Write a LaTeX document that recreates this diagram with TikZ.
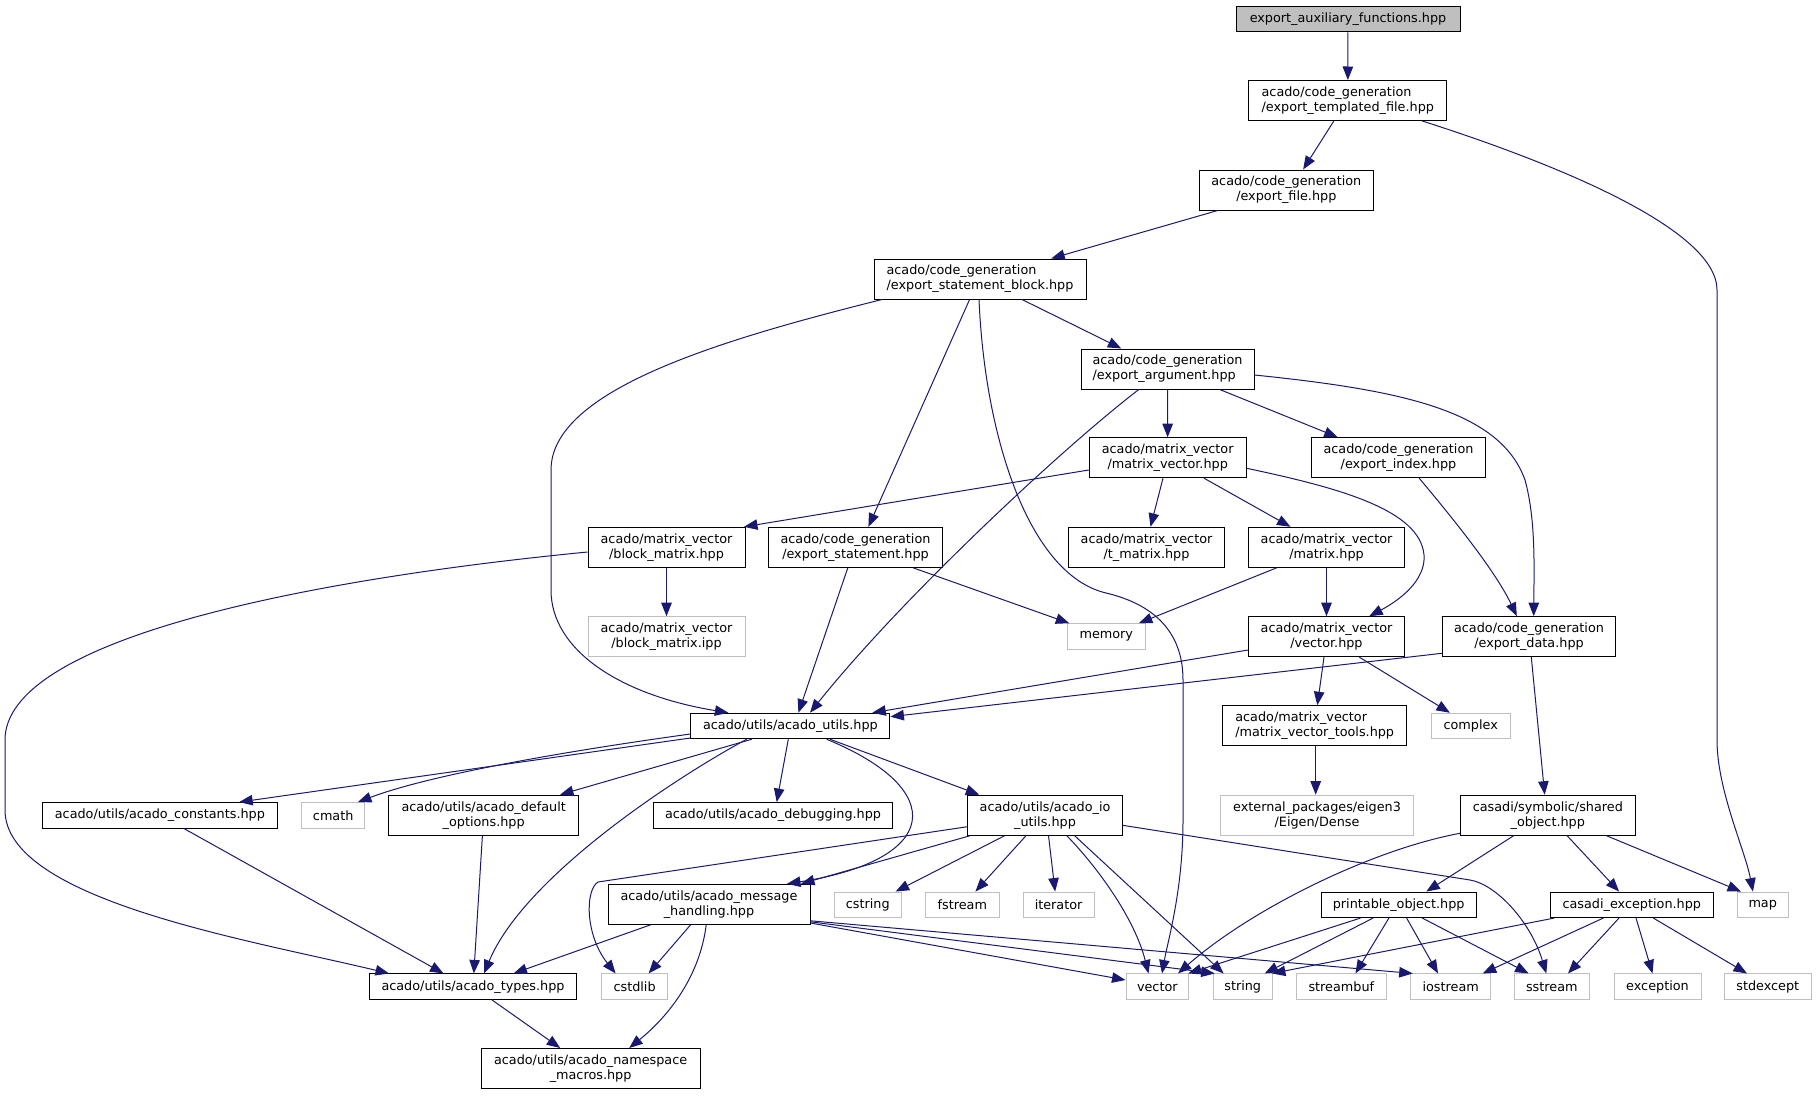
\documentclass[tikz,border=0pt]{standalone}
\usepackage{fontspec}
\setmainfont{DejaVu Sans}
\usetikzlibrary{arrows.meta}
\definecolor{edgeblue}{HTML}{191970}
\definecolor{extgray}{HTML}{BFBFBF}
\definecolor{topfill}{HTML}{BFBFBF}
\tikzset{
  nd/.style={draw=black, line width=1pt, fill=white, rectangle, inner sep=0pt,
    font=\fontsize{12.8}{15}\selectfont, align=center, minimum height=40pt},
  one/.style={minimum height=25.5pt},
  ext/.style={draw=extgray},
  e/.style={draw=edgeblue, line width=1pt, -{Triangle[length=13.5pt,width=10.5pt]}},
}
\begin{document}
\begin{tikzpicture}[x=1pt,y=-1pt]
\useasboundingbox (0,0) rectangle (1817,1095);
% nodes
\node[nd,one,fill=topfill,minimum width=224pt] (aux) at (1348,19) {export\_auxiliary\_functions.hpp};
\node[nd,align=left,minimum width=198pt] (tmpl) at (1347.8,100.5) {acado/code\_generation\\/export\_templated\_file.hpp};
\node[nd,minimum width=174pt] (file) at (1286.3,190) {acado/code\_generation\\/export\_file.hpp};
\node[nd,align=left,minimum width=212pt] (sblock) at (980,279) {acado/code\_generation\\/export\_statement\_block.hpp};
\node[nd,align=left,minimum width=173pt] (arg) at (1167.5,369) {acado/code\_generation\\/export\_argument.hpp};
\node[nd,minimum width=157pt] (mv) at (1167.7,457.7) {acado/matrix\_vector\\/matrix\_vector.hpp};
\node[nd,minimum width=173.5pt] (idx) at (1398.5,457.7) {acado/code\_generation\\/export\_index.hpp};
\node[nd,minimum width=157pt] (bm) at (666.5,547.3) {acado/matrix\_vector\\/block\_matrix.hpp};
\node[nd,minimum width=173.5pt] (es) at (855.5,547.3) {acado/code\_generation\\/export\_statement.hpp};
\node[nd,minimum width=156pt] (tm) at (1146.5,547.3) {acado/matrix\_vector\\/t\_matrix.hpp};
\node[nd,minimum width=156pt] (mat) at (1326.5,547.3) {acado/matrix\_vector\\/matrix.hpp};
\node[nd,ext,minimum width=157pt] (bmi) at (666.5,636.7) {acado/matrix\_vector\\/block\_matrix.ipp};
\node[nd,ext,one,minimum width=77.4pt] (mem) at (1106.3,636.5) {memory};
\node[nd,minimum width=156pt] (vec) at (1326.5,636.7) {acado/matrix\_vector\\/vector.hpp};
\node[nd,minimum width=173.5pt] (data) at (1529,636.7) {acado/code\_generation\\/export\_data.hpp};
\node[nd,one,minimum width=199pt] (utils) at (790.4,726) {acado/utils/acado\_utils.hpp};
\node[nd,align=left,minimum width=184pt] (mvt) at (1314.7,725.7) {acado/matrix\_vector\\/matrix\_vector\_tools.hpp};
\node[nd,ext,one,minimum width=78.6pt] (cplx) at (1470.7,726) {complex};
\node[nd,one,minimum width=235pt] (const) at (159.9,815.3) {acado/utils/acado\_constants.hpp};
\node[nd,ext,one,minimum width=63.4pt] (cmath) at (333.2,815.3) {cmath};
\node[nd,minimum width=189.5pt] (defopt) at (483.7,815.2) {acado/utils/acado\_default\\\_options.hpp};
\node[nd,one,minimum width=239pt] (dbg) at (773,815.3) {acado/utils/acado\_debugging.hpp};
\node[nd,minimum width=154.4pt] (io) at (1045,815.2) {acado/utils/acado\_io\\\_utils.hpp};
\node[nd,ext,minimum width=193.2pt] (eigen) at (1317,815.2) {external\_packages/eigen3\\/Eigen/Dense};
\node[nd,minimum width=174.7pt] (shared) at (1547.8,815.2) {casadi/symbolic/shared\\\_object.hpp};
\node[nd,minimum width=202pt] (msg) at (709,904.3) {acado/utils/acado\_message\\\_handling.hpp};
\node[nd,ext,one,minimum width=66.5pt] (cstring) at (867.8,904.8) {cstring};
\node[nd,ext,one,minimum width=73.5pt] (fstream) at (962.3,904.8) {fstream};
\node[nd,ext,one,minimum width=70.8pt] (iter) at (1058.6,904.8) {iterator};
\node[nd,one,minimum width=155pt] (print) at (1398.7,904.8) {printable\_object.hpp};
\node[nd,one,minimum width=163.3pt] (cexc) at (1631.8,904.8) {casadi\_exception.hpp};
\node[nd,ext,one,minimum width=51.2pt] (map) at (1762.7,904.8) {map};
\node[nd,one,minimum width=207pt] (types) at (473,986.7) {acado/utils/acado\_types.hpp};
\node[nd,ext,one,minimum width=65.3pt] (cstdlib) at (634.6,986.7) {cstdlib};
\node[nd,ext,one,minimum width=62.6pt] (vector) at (1157.3,986.7) {vector};
\node[nd,ext,one,minimum width=59.4pt] (string) at (1242.7,986.7) {string};
\node[nd,ext,one,minimum width=89.7pt] (streambuf) at (1341.3,986.7) {streambuf};
\node[nd,ext,one,minimum width=80.3pt] (iostream) at (1450.7,986.7) {iostream};
\node[nd,ext,one,minimum width=74.8pt] (sstream) at (1551.8,986.7) {sstream};
\node[nd,ext,one,minimum width=87pt] (exception) at (1657.5,986.7) {exception};
\node[nd,ext,one,minimum width=86.6pt] (stdexcept) at (1767.8,986.7) {stdexcept};
\node[nd,minimum width=218.8pt] (ns) at (590.6,1068.5) {acado/utils/acado\_namespace\\\_macros.hpp};
% edges
\draw[e] (aux) -- (tmpl);
\draw[e] ([xshift=-14pt]tmpl.south) -- ([xshift=16.8pt]file.north);
\draw[e] ([xshift=74.5pt]tmpl.south) .. controls (1560,165) and (1717,230) .. (1717,290) -- (1717,740) .. controls (1717,790) and (1745,850) .. ([xshift=-9.8pt]map.north);
\draw[e] ([xshift=-68.6pt]file.south) -- ([xshift=71.2pt]sblock.north);
\draw[e] ([xshift=-98pt]sblock.south) .. controls (720,340) and (551,390) .. (551,470) -- (551,590) .. controls (551,650) and (620,695) .. ([xshift=-62pt]utils.north);
\draw[e] ([xshift=-10.4pt]sblock.south) -- ([xshift=12.9pt]es.north);
\draw[e] ([xshift=-1pt]sblock.south) .. controls (985,440) and (1030,575) .. (1106,593) .. controls (1151.6,603.8) and (1183,630) .. (1183,680) -- (1183,820) .. controls (1183,890) and (1168,940) .. ([xshift=4.7pt]vector.north);
\draw[e] ([xshift=42pt]sblock.south) -- ([xshift=-46.2pt]arg.north);
\draw[e] ([xshift=-28.7pt]arg.south) .. controls (1060,450) and (900,600) .. ([xshift=19.6pt]utils.north);
\draw[e] (arg) -- (mv);
\draw[e] ([xshift=52.2pt]arg.south) -- ([xshift=-60.8pt]idx.north);
\draw[e] ([yshift=-6pt]arg.east) .. controls (1400,390) and (1500,410) .. (1525,480) .. controls (1536,520) and (1534,570) .. ([xshift=4.7pt]data.north);
\draw[e] ([yshift=-12.3pt]mv.west) -- ([xshift=77.5pt]bm.north);
\draw[e] ([xshift=-4.7pt]mv.south) -- ([xshift=4pt]tm.north);
\draw[e] ([xshift=36.3pt]mv.south) -- ([xshift=-36pt]mat.north);
\draw[e] ([yshift=-10.6pt]mv.east) .. controls (1340,488) and (1420,510) .. (1424,555) .. controls (1426,580) and (1400,600) .. ([xshift=42.7pt]vec.north);
\draw[e] ([xshift=20.7pt]idx.south) .. controls (1450,515) and (1495,570) .. ([xshift=-12.2pt]data.north);
\draw[e] (bm) -- (bmi);
\draw[e] ([yshift=-4.7pt]bm.west) .. controls (300,580) and (5,640) .. (5,740) -- (5,810) .. controls (5,900) and (250,940) .. ([xshift=-84pt]types.north);
\draw[e] ([xshift=-7.7pt]es.south) -- ([xshift=8pt]utils.north);
\draw[e] ([xshift=57.6pt]es.south) -- ([xshift=-37pt]mem.north);
\draw[e] ([xshift=-49.8pt]mat.south) -- ([xshift=32.5pt]mem.north);
\draw[e] (mat) -- (vec);
\draw[e] ([yshift=-13.3pt]vec.west) -- ([xshift=81.9pt]utils.north);
\draw[e] ([yshift=-16.6pt]data.west) -- ([yshift=9.3pt]utils.east);
\draw[e] ([xshift=2.3pt]data.south) -- ([xshift=-3.1pt]shared.north);
\draw[e] ([xshift=-2.5pt]vec.south) -- ([xshift=2.6pt]mvt.north);
\draw[e] ([xshift=32.9pt]vec.south) -- ([xshift=-20.8pt]cplx.north);
\draw[e] ([xshift=1pt]mvt.south) -- ([xshift=-1.3pt]eigen.north);
\draw[e] ([yshift=-12pt]utils.west) -- ([xshift=79.3pt]const.north);
\draw[e] ([yshift=-8pt]utils.west) .. controls (560,752) and (430,775) .. ([xshift=24.7pt]cmath.north);
\draw[e] ([xshift=-38.7pt]utils.south) -- ([xshift=76.3pt]defopt.north);
\draw[e] ([xshift=-43.7pt]utils.south) .. controls (680,775) and (525,875) .. ([xshift=11pt]types.north);
\draw[e] ([xshift=-2.1pt]utils.south) -- ([xshift=3.7pt]dbg.north);
\draw[e] ([xshift=36.3pt]utils.south) .. controls (950,790) and (940,860) .. ([xshift=78pt]msg.north);
\draw[e] ([xshift=39.6pt]utils.south) -- ([xshift=-65.7pt]io.north);
\draw[e] ([xshift=24.1pt]const.south) -- ([xshift=-29.5pt]types.north);
\draw[e] ([xshift=-1.3pt]defopt.south) -- ([xshift=0.8pt]types.north);
\draw[e] ([yshift=-11.5pt]io.west) -- (598,882) .. controls (585,890) and (585,935) .. ([xshift=-19pt]cstdlib.north);
\draw[e] ([xshift=-75pt]io.south) -- ([xshift=92pt]msg.north);
\draw[e] ([xshift=-40.4pt]io.south) -- ([xshift=27.8pt]cstring.north);
\draw[e] ([xshift=-19pt]io.south) -- ([xshift=13.1pt]fstream.north);
\draw[e] ([xshift=3.5pt]io.south) -- ([xshift=-3.5pt]iter.north);
\draw[e] ([xshift=21.8pt]io.south) .. controls (1100,870) and (1135,920) .. ([xshift=-8.8pt]vector.north);
\draw[e] ([xshift=29.6pt]io.south) -- ([xshift=-19.1pt]string.north);
\draw[e] ([yshift=-10.1pt]io.east) -- (1470,880) .. controls (1495,884) and (1530,920) .. ([xshift=-5.5pt]sstream.north);
\draw[e] ([xshift=-58.4pt]msg.south) -- ([xshift=40.5pt]types.north);
\draw[e] ([xshift=-18.4pt]msg.south) -- ([xshift=14pt]cstdlib.north);
\draw[e] ([xshift=-2.8pt]msg.south) .. controls (700,975) and (670,1015) .. ([xshift=38.6pt]ns.north);
\draw[e] ([yshift=-18.7pt]msg.east) -- ([yshift=6.7pt]vector.west);
\draw[e] ([yshift=-17.5pt]msg.east) -- ([xshift=-28pt]string.north);
\draw[e] ([yshift=-16.5pt]msg.east) -- ([xshift=-38pt]iostream.north);
\draw[e] ([xshift=19pt]types.south) -- ([xshift=-30.4pt]ns.north);
\draw[e] ([yshift=-18.1pt]shared.west) .. controls (1370,850) and (1250,910) .. ([xshift=20.7pt]vector.north);
\draw[e] ([xshift=-34.2pt]shared.south) -- ([xshift=27.6pt]print.north);
\draw[e] ([xshift=19.3pt]shared.south) -- ([xshift=-12.7pt]cexc.north);
\draw[e] ([xshift=58.7pt]shared.south) -- ([xshift=-21.7pt]map.north);
\draw[e] ([xshift=-38.2pt]print.south) -- ([xshift=-1pt]vector.north east);
\draw[e] ([xshift=-25.6pt]print.south) -- ([xshift=22pt]string.north);
\draw[e] ([xshift=-9.8pt]print.south) -- ([xshift=14.1pt]streambuf.north);
\draw[e] ([xshift=7.9pt]print.south) -- ([xshift=-12.7pt]iostream.north);
\draw[e] ([xshift=23.6pt]print.south) -- ([xshift=-23.2pt]sstream.north);
\draw[e] ([xshift=-77.6pt]cexc.south) -- ([xshift=-1pt]string.north east);
\draw[e] ([xshift=-28.5pt]cexc.south) -- ([xshift=32pt]iostream.north);
\draw[e] ([xshift=-12.8pt]cexc.south) -- ([xshift=16.2pt]sstream.north);
\draw[e] ([xshift=4.2pt]cexc.south) -- ([xshift=-5pt]exception.north);
\draw[e] ([xshift=21.5pt]cexc.south) -- ([xshift=-20.8pt]stdexcept.north);
\end{tikzpicture}
\end{document}
